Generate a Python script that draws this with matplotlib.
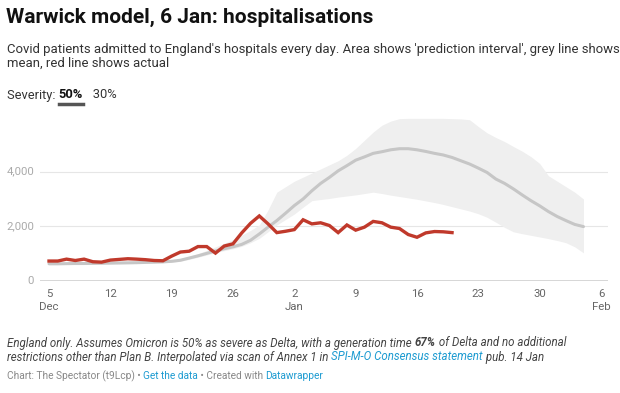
import matplotlib
matplotlib.use("Agg")
import matplotlib.pyplot as plt
import numpy as np
import datetime as dt

# ---------------- data ----------------
start = dt.date(2021, 12, 5)

actual = [730, 730, 800, 750, 800, 705, 690, 765, 790, 815, 800, 780, 750, 740,
          910, 1060, 1090, 1260, 1260, 1020, 1280, 1360, 1760, 2110, 2380, 2090, 1770,
          1820, 1880, 2240, 2090, 2130, 2030, 1770, 2050, 1860, 1970, 2180, 2130, 1970,
          1920, 1700, 1600, 1760, 1810, 1800, 1770]

mean = [630, 630, 635, 640, 640, 645, 650, 655, 660, 665, 670, 680, 690, 700,
        720, 760, 840, 920, 1010, 1100, 1180, 1250, 1340, 1490, 1720, 1970, 2210,
        2480, 2760, 3000, 3300, 3570, 3790, 4030, 4220, 4420, 4540, 4670, 4730, 4800,
        4840, 4840, 4800, 4740, 4670, 4610, 4520, 4400, 4280, 4130, 3970, 3730, 3570,
        3370, 3150, 2940, 2750, 2540, 2360, 2210, 2070, 1990]

upper = [670, 670, 675, 680, 680, 685, 690, 695, 700, 705, 710, 720, 730, 740,
         770, 820, 900, 1000, 1120, 1250, 1380, 1520, 1680, 1850, 2050, 2600, 3250,
         3450, 3650, 3800, 3950, 4100, 4250, 4400, 4600, 4850, 5150, 5450, 5700, 5850,
         5940, 5950, 5950, 5950, 5950, 5950, 5940, 5930, 5900, 5650, 5420, 5250, 5100,
         4920, 4750, 4550, 4300, 3850, 3650, 3450, 3250, 3000]

lower = [600, 600, 605, 610, 610, 615, 620, 625, 630, 635, 640, 650, 660, 670,
         690, 720, 790, 870, 950, 1040, 1110, 1180, 1270, 1400, 1560, 1800, 2050,
         2250, 2450, 2700, 2940, 2980, 3020, 3070, 3110, 3150, 3200, 3250, 3200, 3140,
         3090, 3040, 2990, 2930, 2870, 2800, 2720, 2640, 2560, 2460, 2330, 2150, 1960,
         1800, 1730, 1670, 1610, 1550, 1480, 1400, 1250, 1030]

tick_days = [0, 7, 14, 21, 28, 35, 42, 49, 56, 63]
tick_labels = ["5\nDec", "12", "19", "26", "2\nJan", "9", "16", "23", "30", "6\nFeb"]
y_ticks = [0, 2000, 4000]
y_labels = ["0", "2,000", "4,000"]

# ---------------- figure ----------------
W, H = 620, 393
fig = plt.figure(figsize=(W / 100, H / 100), dpi=100)
fig.patch.set_facecolor("white")
FONT = "Roboto"
plt.rcParams["font.family"] = [FONT, "DejaVu Sans"]

ax = fig.add_axes([40 / W, 1 - 281 / H, 568 / W, 164 / H])
px_per_day = 552 / 63
ax.set_xlim(-9 / px_per_day, -9 / px_per_day + 568 / px_per_day)
ax.set_ylim(0, 6000)

d_model = np.arange(len(mean))
d_act = np.arange(len(actual))

ax.fill_between(d_model, lower, upper, color="#efefef", lw=0, zorder=1)
for yv in y_ticks[1:]:
    ax.axhline(yv, color="#e6e6e6", lw=0.8, zorder=0.5)
ax.plot(d_model, mean, color="#c6c6c6", lw=2.2, zorder=2, solid_capstyle="round")
ax.plot(d_act, actual, color="#c0392b", lw=2.4, zorder=3, solid_joinstyle="miter")
ax.axhline(0, color="#333333", lw=1.0, zorder=4)

for s in ax.spines.values():
    s.set_visible(False)
ax.set_yticks([])
ax.set_xticks(tick_days)
ax.set_xticklabels(tick_labels, fontsize=8.2, color="#666666", linespacing=1.35)
ax.tick_params(axis="x", length=0, pad=6)
for lab in ax.get_xticklabels():
    lab.set_verticalalignment("top")

for yv, lab in zip(y_ticks, y_labels):
    ax.text(-15 / px_per_day, yv, lab, ha="right", va="center",
            fontsize=8.2, color="#aaaaaa", transform=ax.transData, clip_on=False)

# ---------------- texts ----------------
def px(x, y):
    return x / W, 1 - y / H

fig.text(*px(6, 17), "Warwick model, 6 Jan: hospitalisations", fontsize=15,
         fontweight="bold", color="#111111", va="center", ha="left")
fig.text(*px(7, 50), "Covid patients admitted to England's hospitals every day. Area shows 'prediction interval', grey line shows",
         fontsize=9.42, color="#333333", va="center", ha="left")
fig.text(*px(7, 63), "mean, red line shows actual", fontsize=9.42, color="#333333",
         va="center", ha="left")

fig.canvas.draw()
renderer = fig.canvas.get_renderer()


def runs(x0, y0, parts, fontsize):
    x = x0
    out = []
    for txt, kw in parts:
        t = fig.text(x / W, 1 - y0 / H, txt, fontsize=fontsize, va="center",
                     ha="left", **kw)
        bb = t.get_window_extent(renderer=renderer)
        out.append((t, bb))
        x += bb.width
    return out


sev = runs(7, 95, [("Severity: ", dict(color="#333333")),
                   ("50%", dict(color="#111111", fontweight="bold")),
                   ("   30%", dict(color="#333333"))], 9.3)
bb50 = sev[1][1]
fig.add_artist(plt.Line2D([bb50.x0 / W, bb50.x1 / W], [1 - 104 / H, 1 - 104 / H],
                          color="#555555", lw=2.5, transform=fig.transFigure))

grey = "#444444"
runs(7, 343, [("England only. Assumes Omicron is 50% as severe as Delta, with a generation time ",
               dict(color=grey, style="italic")),
              ("67%", dict(color=grey, style="italic", fontweight="bold")),
              (" of Delta and no additional", dict(color=grey, style="italic"))], 8.3)
runs(7, 357, [("restrictions other than Plan B. Interpolated via scan of Annex 1 in ",
               dict(color=grey, style="italic")),
              ("SPI-M-O Consensus statement", dict(color="#1d9bd1", style="italic")),
              (" pub. 14 Jan", dict(color=grey, style="italic"))], 8.3)
runs(7, 376, [("Chart: The Spectator (t9Lcp) • ", dict(color="#888888")),
              ("Get the data", dict(color="#1d9bd1")),
              (" • Created with ", dict(color="#888888")),
              ("Datawrapper", dict(color="#1d9bd1"))], 7.3)

fig.savefig("out.png", dpi=100, facecolor="white")
